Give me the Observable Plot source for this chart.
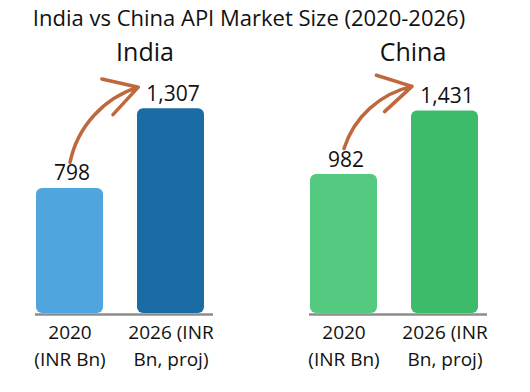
<!DOCTYPE html>
<html>
<head>
<meta charset="utf-8">
<script src="https://cdn.jsdelivr.net/npm/d3@7"></script>
<script src="https://cdn.jsdelivr.net/npm/@observablehq/plot@0.6"></script>
<style>
  html, body { margin: 0; padding: 0; background: #fff; }
  #chart { position: relative; width: 530px; height: 392px; overflow: hidden; font-family: "Open Sans", sans-serif; color: #111; }
  .title { position: absolute; left: 0; top: 3px; width: 498px; text-align: center; font-size: 22px; line-height: 28px; white-space: nowrap; }
  .country { position: absolute; top: 35px; width: 120px; text-align: center; font-size: 25px; line-height: 32px; }
  .panel { position: absolute; top: 0; }
</style>
</head>
<body>
<div id="chart"></div>
<script>
// Market size of active pharmaceutical ingredients, INR billion
const countries = ["India", "China"];
const periods = ["2020", "2026"];
const periodLabels = ["2020\n(INR Bn)", "2026 (INR\nBn, proj)"];
const indiaValues = [798, 1307];
const chinaValues = [982, 1431];
const titleText = "India vs China API Market Size (2020-2026)";

const palettes = {
  India: ["#4fa6df", "#1b6ba4"],
  China: ["#55c97f", "#3cbc6b"]
};
const layout = {
  India: {left: 0, yMax: 1870, labelCenter: 145},
  China: {left: 274, yMax: 2070, labelCenter: 413}
};
const seriesByCountry = {India: indiaValues, China: chinaValues};
const fmt = d3.format(",");

const chart = document.getElementById("chart");
const title = document.createElement("div");
title.className = "title";
title.textContent = titleText;
chart.appendChild(title);

for (const name of countries) {
  const values = seriesByCountry[name];
  const {left, yMax, labelCenter} = layout[name];
  const rows = periods.map((p, i) => ({period: p, value: values[i]}));

  const head = document.createElement("div");
  head.className = "country";
  head.style.left = (labelCenter - 60) + "px";
  head.textContent = name;
  chart.appendChild(head);

  const plot = Plot.plot({
    width: 265,
    height: 392,
    marginTop: 20,
    marginBottom: 79,
    marginLeft: 35,
    marginRight: 52,
    style: {fontFamily: "Open Sans, sans-serif", background: "transparent", overflow: "visible"},
    x: {domain: periods, range: [36, 205], paddingInner: 0.337, paddingOuter: 0, align: 0},
    y: {domain: [0, yMax], axis: null},
    color: {domain: periods, range: palettes[name]},
    marks: [
      Plot.barY(rows, {x: "period", y: "value", fill: "period", rx: 6}),
      Plot.ruleY([0], {stroke: "#8c8c8c", strokeWidth: 2.5, dy: 1}),
      Plot.text(rows, {
        x: "period", y: "value", text: d => fmt(d.value),
        dy: -8, dx: 2, lineAnchor: "bottom", fontSize: 21, fill: "#111"
      }),
      Plot.arrow([rows], {
        x1: d => d[0].period, y1: d => d[0].value,
        x2: d => d[1].period, y2: d => d[1].value,
        bend: 40, dy: -26, insetEnd: 33,
        stroke: "#c0683d", strokeWidth: 3.5, headLength: 16, strokeLinecap: "round"
      }),
      Plot.axisX({
        tickSize: 0, tickPadding: 6, fontSize: 19, lineHeight: 1.42,
        tickFormat: p => periodLabels[periods.indexOf(p)], label: null, fill: "#111"
      })
    ]
  });
  plot.classList.add("panel");
  plot.style.left = left + "px";
  chart.appendChild(plot);
}
</script>
</body>
</html>
